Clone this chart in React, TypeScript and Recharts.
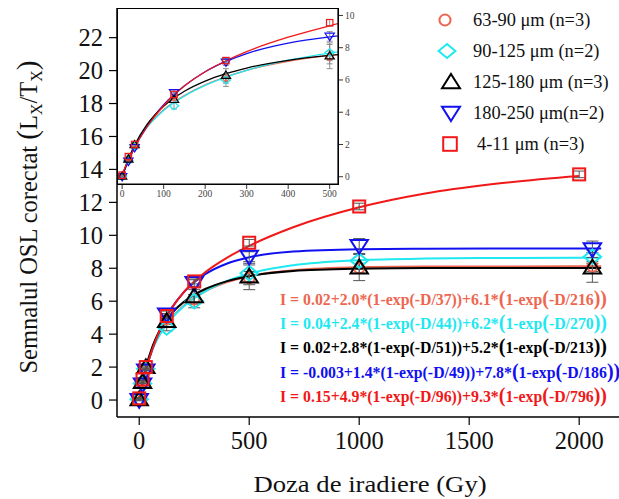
import React from "react";
import {
  ComposedChart,
  Line,
  Scatter,
  XAxis,
  YAxis,
  ErrorBar,
} from "recharts";

// ---- measured data points (dose Gy -> corrected OSL) ----
const doses = [0, 15, 30, 125, 250, 500, 1000, 2060];
const redDoses = [0, 15, 30, 125, 250, 500, 1000, 2000];
const g6390 = [0.05, 1.1, 1.9, 4.9, 6.1, 7.4, 8.0, 8.1];
const g90125 = [0.05, 1.0, 1.9, 4.4, 6.0, 7.7, 8.45, 8.7];
const g125180 = [0.05, 1.1, 2.0, 4.8, 6.3, 7.5, 8.05, 8.05];
const g180250 = [0.0, 0.95, 1.8, 5.2, 7.1, 8.7, 9.35, 9.15];
const g411 = [0.1, 1.25, 2.0, 5.1, 7.2, 9.55, 11.75, 13.7];

const e6390 = [0.05, 0.1, 0.1, 0.2, 0.3, 0.4, 0.3, 0.3];
const e90125 = [0.05, 0.1, 0.1, 0.2, 0.4, 0.5, 0.4, 0.4];
const e125180 = [0.05, 0.1, 0.15, 0.2, 0.4, 0.8, 0.8, 0.9];
const e180250 = [0.05, 0.1, 0.1, 0.2, 0.2, 0.3, 0.45, 0.5];
const e411 = [0.05, 0.1, 0.1, 0.15, 0.15, 0.2, 0.2, 0.2];

// ---- fitted curves ----
const fitDoses = [0, 15, 30, 60, 100, 150, 200, 250, 300, 400, 500, 700, 1000, 1300, 1600, 2000, 2100];
const fit6390 = [0.02, 1.1, 1.92, 3.11, 4.15, 5.03, 5.7, 6.2, 6.6, 7.16, 7.52, 7.88, 8.06, 8.1, 8.11, 8.12, 8.12];
const fit90125 = [0.04, 1.07, 1.88, 3.06, 4.11, 5.0, 5.66, 6.18, 6.6, 7.23, 7.67, 8.18, 8.49, 8.59, 8.62, 8.64, 8.64];
const fit125180 = [0.02, 1.09, 1.95, 3.24, 4.37, 5.3, 5.93, 6.39, 6.74, 7.22, 7.52, 7.83, 7.97, 8.01, 8.02, 8.02, 8.02];
const fit180250 = [0.0, 0.97, 1.8, 3.14, 4.46, 5.64, 6.51, 7.15, 7.64, 8.29, 8.67, 9.02, 9.16, 9.19, 9.2, 9.2, 9.2];
const fit411 = [0.15, 1.03, 1.81, 3.1, 4.42, 5.62, 6.51, 7.19, 7.76, 8.65, 9.36, 10.49, 11.7, 12.54, 13.1, 13.6];

const mainXTicks = [0, 500, 1000, 1500, 2000];
const mainYTicks = [0, 2, 4, 6, 8, 10, 12, 14, 16, 18, 20, 22];
const insetXTicks = [0, 100, 200, 300, 400, 500];
const insetYTicks = [0, 2, 4, 6, 8, 10];

const legendLabels = ["63-90 μm  (n=3)", "90-125 μm (n=2)", "125-180 μm (n=3)", "180-250 μm(n=2)", "4-11 μm (n=3)"];
const eqFirst = [
  "I = 0.02+2.0*(1-exp(-D/37))+6.1*",
  "I = 0.04+2.4*(1-exp(-D/44))+6.2*",
  "I = 0.02+2.8*(1-exp(-D/51))+5.2*",
  "I = -0.003+1.4*(1-exp(-D/49))+7.8*",
  "I = 0.15+4.9*(1-exp(-D/96))+9.3*",
];
const eqTau = ["216", "270", "213", "186", "796"];

const C_SALMON = "#ee6650";
const C_CYAN = "#1ee8f0";
const C_BLACK = "#000000";
const C_BLUE = "#1010f0";
const C_RED = "#f01818";

const SERIF = "'Liberation Serif', 'Times New Roman', serif";

const pts = (xs: number[], ys: number[], es?: number[]) =>
  xs.map((x, i) => ({ x, y: ys[i], e: es ? es[i] : 0 }));

const series = [
  { name: "g6390", color: C_SALMON, shape: "circle", pts: pts(doses, g6390, e6390), fit: pts(fitDoses, fit6390) },
  { name: "g90125", color: C_CYAN, shape: "diamond", pts: pts(doses, g90125, e90125), fit: pts(fitDoses, fit90125) },
  { name: "g180250", color: C_BLUE, shape: "down", pts: pts(doses, g180250, e180250), fit: pts(fitDoses, fit180250) },
  { name: "g125180", color: C_BLACK, shape: "up", pts: pts(doses, g125180, e125180), fit: pts(fitDoses, fit125180) },
  { name: "g411", color: C_RED, shape: "square", pts: pts(redDoses, g411, e411), fit: pts(fitDoses.slice(0, fit411.length), fit411) },
];

function Marker({ shape, cx, cy, s, color, sw }: any) {
  if (cx == null || cy == null) return null;
  const common = { fill: "none", stroke: color, strokeWidth: sw };
  if (shape === "circle") return <circle cx={cx} cy={cy} r={s * 0.85} {...common} />;
  if (shape === "square")
    return <rect x={cx - s} y={cy - s} width={2 * s} height={2 * s} {...common} />;
  if (shape === "diamond")
    return (
      <polygon
        points={`${cx},${cy - s * 1.2} ${cx + s * 1.45},${cy} ${cx},${cy + s * 1.2} ${cx - s * 1.45},${cy}`}
        {...common}
      />
    );
  if (shape === "up")
    return (
      <polygon
        points={`${cx},${cy - s * 1.3} ${cx + s * 1.45},${cy + s * 1.0} ${cx - s * 1.45},${cy + s * 1.0}`}
        {...common}
      />
    );
  return (
    <polygon
      points={`${cx},${cy + s * 1.3} ${cx + s * 1.45},${cy - s * 1.0} ${cx - s * 1.45},${cy - s * 1.0}`}
      {...common}
    />
  );
}

const mkShape = (shape: string, color: string, s: number, sw: number) => (props: any) =>
  <Marker shape={shape} cx={props.cx} cy={props.cy} s={s} color={color} sw={sw} />;

function MainChart() {
  return (
    <ComposedChart width={619} height={499} margin={{ top: 8, right: 0, bottom: 0, left: 0 }}>
      <XAxis
        type="number"
        dataKey="x"
        domain={[-101, 2181]}
        ticks={mainXTicks}
        interval={0}
        allowDataOverflow
        height={82}
        tickSize={8}
        tickMargin={7}
        axisLine={{ stroke: "#000", strokeWidth: 1.5 }}
        tickLine={{ stroke: "#000", strokeWidth: 1.2 }}
        tick={{ fontFamily: SERIF, fontSize: 24.5, fill: "#111" }}
      />
      <YAxis
        type="number"
        domain={[-1.03, 23.8]}
        ticks={mainYTicks}
        interval={0}
        allowDataOverflow
        width={117}
        tickSize={8}
        tickMargin={6}
        axisLine={{ stroke: "#000", strokeWidth: 1.5 }}
        tickLine={{ stroke: "#000", strokeWidth: 1.2 }}
        tick={{ fontFamily: SERIF, fontSize: 24.5, fill: "#111" }}
      />
      {series.map((s) => (
        <Line
          key={"l" + s.name}
          data={s.fit}
          dataKey="y"
          type="monotone"
          stroke={s.color}
          strokeWidth={2}
          dot={false}
          activeDot={false}
          isAnimationActive={false}
        />
      ))}
      {series.map((s) => (
        <Scatter
          key={"s" + s.name}
          data={s.pts}
          dataKey="y"
          isAnimationActive={false}
          shape={mkShape(s.shape, s.color, 6, 2)}
        >
          <ErrorBar dataKey="e" direction="y" width={6} stroke="#555" strokeWidth={1} isAnimationActive={false} />
        </Scatter>
      ))}
    </ComposedChart>
  );
}

function InsetChart() {
  return (
    <ComposedChart width={255} height={200} margin={{ top: 0, right: 0, bottom: 0, left: 0 }}>
      <XAxis
        type="number"
        dataKey="x"
        domain={[-10, 520]}
        ticks={insetXTicks}
        interval={0}
        allowDataOverflow
        height={25}
        tickSize={5}
        tickMargin={1}
        axisLine={{ stroke: "#000", strokeWidth: 1.2 }}
        tickLine={{ stroke: "#333", strokeWidth: 1 }}
        tick={{ fontFamily: SERIF, fontSize: 9.5, fill: "#444" }}
      />
      <YAxis
        type="number"
        orientation="right"
        domain={[-0.45, 10.4]}
        ticks={insetYTicks}
        interval={0}
        allowDataOverflow
        width={35}
        tickSize={5}
        tickMargin={2}
        axisLine={{ stroke: "#000", strokeWidth: 1.2 }}
        tickLine={{ stroke: "#333", strokeWidth: 1 }}
        tick={{ fontFamily: SERIF, fontSize: 9.5, fill: "#444" }}
      />
      {series.map((s) => (
        <Line
          key={"il" + s.name}
          data={s.fit}
          dataKey="y"
          type="monotone"
          stroke={s.color}
          strokeWidth={1.3}
          dot={false}
          activeDot={false}
          isAnimationActive={false}
        />
      ))}
      {series.map((s) => (
        <Scatter
          key={"is" + s.name}
          data={s.pts.filter((p) => p.x <= 500)}
          dataKey="y"
          isAnimationActive={false}
          shape={mkShape(s.shape, s.color, 3.2, 1.2)}
        >
          <ErrorBar dataKey="e" direction="y" width={3} stroke="#777" strokeWidth={0.8} isAnimationActive={false} />
        </Scatter>
      ))}
    </ComposedChart>
  );
}

function Overlay() {
  const legendShapes = ["circle", "diamond", "up", "down", "square"];
  const legendColors = [C_SALMON, C_CYAN, C_BLACK, C_BLUE, C_RED];
  const legendMx = [445, 447, 451, 451, 450];
  const legendS = [6.5, 5.8, 6.2, 6.2, 6.8];
  const eqColors = [C_SALMON, C_CYAN, C_BLACK, C_BLUE, C_RED];
  return (
    <svg
      width={619}
      height={499}
      style={{ position: "absolute", left: 0, top: 0, pointerEvents: "none" }}
    >
      {legendLabels.map((t, i) => {
        const base = 26 + i * 31;
        return (
          <g key={t}>
            <Marker shape={legendShapes[i]} cx={legendMx[i]} cy={base - 6} s={legendS[i]} color={legendColors[i]} sw={2} />
            <text x={i === 4 ? 477 : 473} y={base} fontFamily={SERIF} fontSize={18.4} fill="#111">
              {t}
            </text>
          </g>
        );
      })}
      {eqFirst.map((t, i) => (
        <text
          key={t}
          x={280}
          y={305 + i * 24.2}
          fontFamily={SERIF}
          fontSize={15.8}
          fontWeight="bold"
          fill={eqColors[i]}
        >
          {t}
          <tspan fontSize={20}>(</tspan>
          1-exp
          <tspan fontSize={20}>(</tspan>
          {"-D/" + eqTau[i]}
          <tspan fontSize={20}>))</tspan>
        </text>
      ))}
      <text
        transform="translate(37,217) rotate(-90)"
        textAnchor="middle"
        fontFamily={SERIF}
        fontSize={24.5}
        fill="#111"
      >
        Semnalul OSL corectat <tspan fontSize={29}>(</tspan>L
        <tspan fontSize={16} dy={5}>X</tspan>
        <tspan dy={-5}>/T</tspan>
        <tspan fontSize={16} dy={5}>X</tspan>
        <tspan fontSize={29} dy={-5}>)</tspan>
      </text>
      <text
        transform="translate(370,492) scale(1.16,1)"
        textAnchor="middle"
        fontFamily={SERIF}
        fontSize={23}
        fill="#111"
      >
        Doza de iradiere (Gy)
      </text>
    </svg>
  );
}

export default function App() {
  return (
    <div style={{ position: "absolute", left: 0, top: 0, width: 619, height: 499, background: "#fff", overflow: "hidden" }}>
      <div style={{ position: "absolute", left: 0, top: 0 }}>
        <MainChart />
      </div>
      <div style={{ position: "absolute", left: 118, top: 9, width: 220, height: 175, background: "#fff" }} />
      <div style={{ position: "absolute", left: 118, top: 9 }}>
        <InsetChart />
      </div>
      <div
        style={{
          position: "absolute",
          left: 117,
          top: 8,
          width: 222,
          height: 177,
          border: "1.5px solid #000",
          boxSizing: "border-box",
          pointerEvents: "none",
        }}
      />
      <Overlay />
    </div>
  );
}
